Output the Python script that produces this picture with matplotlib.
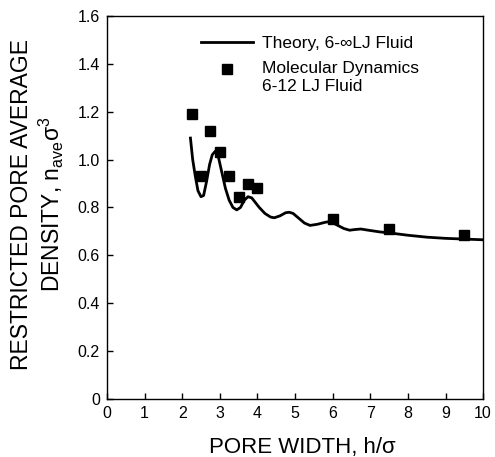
import matplotlib
matplotlib.use("Agg")
import matplotlib.pyplot as plt
import numpy as np

plt.rcParams['font.family'] = ['Liberation Sans', 'DejaVu Sans']
plt.rcParams['mathtext.default'] = 'regular'

# theory curve, 6-inf LJ fluid
theory_x = [2.22, 2.28, 2.35, 2.42, 2.50, 2.57, 2.65, 2.73, 2.80, 2.88,
            2.95, 3.05, 3.15, 3.25, 3.35, 3.45, 3.55, 3.65, 3.75, 3.85,
            3.95, 4.05, 4.20, 4.35, 4.45, 4.60, 4.75, 4.85, 4.95, 5.10,
            5.25, 5.40, 5.60, 5.80, 5.95, 6.10, 6.30, 6.45, 6.60, 6.75,
            6.95, 7.25, 7.55, 8.00, 8.50, 9.00, 9.50, 10.0]
theory_y = [1.09, 1.00, 0.93, 0.87, 0.845, 0.85, 0.91, 0.98, 1.02, 1.035,
            1.02, 0.95, 0.88, 0.83, 0.80, 0.79, 0.80, 0.83, 0.845, 0.84,
            0.82, 0.80, 0.775, 0.76, 0.757, 0.765, 0.778, 0.780, 0.775, 0.755,
            0.735, 0.725, 0.730, 0.738, 0.742, 0.728, 0.712, 0.705, 0.708, 0.710,
            0.705, 0.698, 0.693, 0.684, 0.676, 0.671, 0.668, 0.665]

# molecular dynamics, 6-12 LJ fluid
md_x = [2.25, 2.5, 2.75, 3.0, 3.25, 3.5, 3.75, 4.0, 6.0, 7.5, 9.5]
md_y = [1.19, 0.93, 1.12, 1.03, 0.93, 0.845, 0.90, 0.883, 0.753, 0.711, 0.686]

xticks = list(range(0, 11))
yticks = [0, 0.2, 0.4, 0.6, 0.8, 1.0, 1.2, 1.4, 1.6]
yticklabels = ['0', '0.2', '0.4', '0.6', '0.8', '1.0', '1.2', '1.4', '1.6']

fig = plt.figure(figsize=(4.95, 4.57), dpi=100)
ax = fig.add_axes([0.216, 0.127, 0.760, 0.838])

ax.plot(theory_x, theory_y, color='black', lw=2.0, label='Theory, 6-\u221eLJ Fluid')
ax.plot(md_x, md_y, 's', color='black', ms=6.5, label='Molecular Dynamics\n6-12 LJ Fluid')

ax.set_xlim(0, 10)
ax.set_ylim(0, 1.6)
ax.set_xticks(xticks)
ax.set_yticks(yticks)
ax.set_yticklabels(yticklabels)
ax.tick_params(direction='in', length=4, width=1, labelsize=11.5, pad=5)
for s in ax.spines.values():
    s.set_linewidth(1.0)

leg = ax.legend(loc='upper left', bbox_to_anchor=(0.217, 0.98), frameon=False,
                fontsize=12.5, handlelength=3.0, handletextpad=0.55,
                labelspacing=0.6, borderpad=0.2)
# put the square next to the first line of its label
mk = leg.legend_handles[1]
mk.set_ydata(np.asarray(mk.get_ydata()) + 6)

fig.text(302 / 495, 1 - 447 / 457, 'PORE WIDTH, h/\u03c3', ha='center', va='center',
         fontsize=16)
fig.text(38 / 495, 1 - 204 / 457, 'RESTRICTED PORE AVERAGE\nDENSITY, n$_{ave}$\u03c3$^3$',
         rotation=90, ha='center', va='center', multialignment='center', fontsize=16.5,
         linespacing=1.15)

fig.savefig('out.png', dpi=100)
